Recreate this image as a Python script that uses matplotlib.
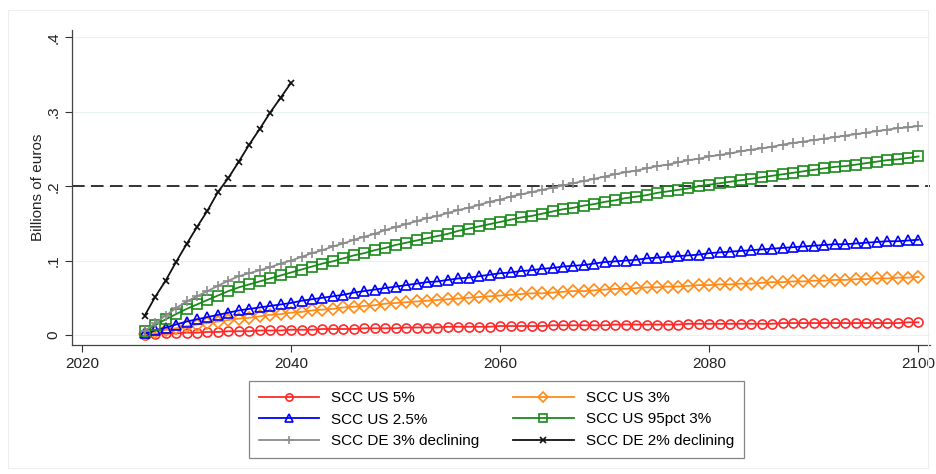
import matplotlib
matplotlib.use('Agg')
from matplotlib import pyplot as plt
from matplotlib.patches import Rectangle

plt.rcParams['font.family'] = ['Liberation Sans', 'DejaVu Sans']

years = list(range(2026, 2101))
years_de2 = list(range(2026, 2041))

scc_us_5 = [0.000, 0.001, 0.002, 0.002, 0.003, 0.003, 0.004, 0.004, 0.005, 0.005,
            0.005, 0.006, 0.006, 0.006, 0.007, 0.007, 0.007, 0.008, 0.008, 0.008,
            0.008, 0.009, 0.009, 0.009, 0.009, 0.010, 0.010, 0.010, 0.010, 0.011,
            0.011, 0.011, 0.011, 0.011, 0.012, 0.012, 0.012, 0.012, 0.012, 0.013,
            0.013, 0.013, 0.013, 0.013, 0.013, 0.014, 0.014, 0.014, 0.014, 0.014,
            0.014, 0.014, 0.015, 0.015, 0.015, 0.015, 0.015, 0.015, 0.015, 0.015,
            0.015, 0.016, 0.016, 0.016, 0.016, 0.016, 0.016, 0.016, 0.016, 0.016,
            0.016, 0.016, 0.016, 0.017, 0.017]

scc_us_3 = [0.001, 0.004, 0.007, 0.009, 0.012, 0.014, 0.016, 0.018, 0.020, 0.022,
            0.023, 0.025, 0.027, 0.028, 0.030, 0.031, 0.033, 0.034, 0.035, 0.037,
            0.038, 0.039, 0.040, 0.042, 0.043, 0.044, 0.045, 0.046, 0.047, 0.048,
            0.049, 0.050, 0.051, 0.052, 0.053, 0.054, 0.055, 0.056, 0.056, 0.057,
            0.058, 0.059, 0.059, 0.060, 0.061, 0.062, 0.062, 0.063, 0.064, 0.064,
            0.065, 0.065, 0.066, 0.067, 0.067, 0.068, 0.068, 0.069, 0.069, 0.070,
            0.071, 0.071, 0.072, 0.072, 0.073, 0.073, 0.074, 0.074, 0.075, 0.075,
            0.076, 0.076, 0.077, 0.077, 0.078]

scc_us_25 = [0.002, 0.006, 0.010, 0.014, 0.018, 0.021, 0.024, 0.027, 0.030, 0.033,
             0.035, 0.037, 0.039, 0.041, 0.043, 0.046, 0.048, 0.050, 0.052, 0.054,
             0.057, 0.059, 0.061, 0.063, 0.065, 0.067, 0.069, 0.071, 0.072, 0.074,
             0.076, 0.077, 0.079, 0.081, 0.083, 0.084, 0.086, 0.087, 0.089, 0.090,
             0.092, 0.093, 0.094, 0.096, 0.098, 0.099, 0.100, 0.101, 0.103, 0.104,
             0.105, 0.106, 0.107, 0.108, 0.110, 0.111, 0.112, 0.113, 0.114, 0.115,
             0.116, 0.117, 0.118, 0.119, 0.120, 0.121, 0.122, 0.122, 0.123, 0.124,
             0.125, 0.126, 0.126, 0.127, 0.128]

scc_us_95 = [0.005, 0.013, 0.021, 0.028, 0.035, 0.041, 0.047, 0.053, 0.059, 0.064,
             0.068, 0.072, 0.076, 0.080, 0.084, 0.088, 0.092, 0.096, 0.099, 0.103,
             0.107, 0.110, 0.114, 0.117, 0.121, 0.124, 0.127, 0.130, 0.133, 0.136,
             0.140, 0.143, 0.146, 0.149, 0.152, 0.155, 0.158, 0.160, 0.163, 0.166,
             0.169, 0.171, 0.174, 0.176, 0.179, 0.181, 0.184, 0.186, 0.188, 0.191,
             0.193, 0.195, 0.197, 0.200, 0.202, 0.204, 0.206, 0.208, 0.210, 0.212,
             0.214, 0.216, 0.218, 0.220, 0.222, 0.224, 0.226, 0.227, 0.229, 0.231,
             0.233, 0.235, 0.236, 0.238, 0.240]

scc_de_3 = [0.005, 0.016, 0.026, 0.036, 0.045, 0.052, 0.059, 0.066, 0.073, 0.079,
            0.083, 0.087, 0.091, 0.096, 0.100, 0.105, 0.110, 0.114, 0.119, 0.123,
            0.128, 0.132, 0.136, 0.141, 0.145, 0.149, 0.153, 0.157, 0.160, 0.164,
            0.168, 0.171, 0.175, 0.179, 0.182, 0.186, 0.189, 0.192, 0.195, 0.198,
            0.201, 0.204, 0.207, 0.210, 0.213, 0.216, 0.219, 0.221, 0.224, 0.227,
            0.229, 0.232, 0.235, 0.237, 0.240, 0.242, 0.244, 0.247, 0.249, 0.251,
            0.253, 0.256, 0.258, 0.260, 0.262, 0.264, 0.266, 0.268, 0.270, 0.272,
            0.274, 0.276, 0.278, 0.279, 0.281]

scc_de_2 = [0.026, 0.051, 0.073, 0.098, 0.122, 0.145, 0.167, 0.192, 0.211, 0.233,
            0.256, 0.277, 0.299, 0.319, 0.339]

threshold = 0.2
y_ticks = [0, 0.1, 0.2, 0.3, 0.4]
y_tick_labels = ['0', '.1', '.2', '.3', '.4']
x_ticks = [2020, 2040, 2060, 2080, 2100]

fig = plt.figure(figsize=(9.36, 4.74), dpi=100)
fig.patches.append(Rectangle((8 / 936, 6 / 474), 1 - 16 / 936, 1 - 16 / 474,
                             transform=fig.transFigure, fill=False,
                             edgecolor='#eeeeee', linewidth=0.8))
ax = fig.add_axes([72 / 936, 129 / 474, 858 / 936, 315 / 474])

for y in y_ticks:
    ax.axhline(y, color='#eaf1f2', linewidth=0.8, zorder=0)
ax.axhline(threshold, color='#222222', linewidth=1.3, linestyle=(0, (7, 3.5)), zorder=1)

series = [
    (years, scc_us_5, 'SCC US 5%', '#ff2a2a', 'o', 6.5),
    (years, scc_us_3, 'SCC US 3%', '#ff8c1a', 'D', 6.0),
    (years, scc_us_25, 'SCC US 2.5%', '#0000ff', '^', 6.5),
    (years, scc_us_95, 'SCC US 95pct 3%', '#1a8a1a', 's', 6.5),
    (years, scc_de_3, 'SCC DE 3% declining', '#8c8c8c', '+', 7.5),
    (years_de2, scc_de_2, 'SCC DE 2% declining', '#111111', 'x', 5.0),
]
for xs, ys, label, color, marker, ms in series:
    ax.plot(xs, ys, color=color, linewidth=1.3, marker=marker, markersize=ms,
            markerfacecolor='none', markeredgecolor=color, markeredgewidth=1.2,
            label=label, zorder=3)

ax.set_xlim(2019.05, 2101.1)
ax.set_ylim(-0.0135, 0.41)
ax.set_xticks(x_ticks)
ax.set_yticks(y_ticks)
ax.set_yticklabels(y_tick_labels, rotation=90, va='center')
ax.tick_params(axis='both', direction='out', length=5, width=0.8,
               colors='#333333', labelsize=11, labelcolor='#222222')
ax.set_ylabel('Billions of euros', fontsize=11, color='#222222', labelpad=1)
for side in ['top', 'right']:
    ax.spines[side].set_visible(False)
for side in ['left', 'bottom']:
    ax.spines[side].set_color('#444444')
    ax.spines[side].set_linewidth(0.9)

handles, labels = ax.get_legend_handles_labels()
order = [0, 2, 4, 1, 3, 5]
leg = fig.legend([handles[i] for i in order], [labels[i] for i in order],
                 loc='center', bbox_to_anchor=(496.5 / 936, 1 - 419.5 / 474),
                 ncol=2, fontsize=11, frameon=True, fancybox=False,
                 edgecolor='#666666', handlelength=3.95, columnspacing=2.2,
                 labelspacing=0.5, borderpad=0.65, handletextpad=0.8,
                 markerscale=0.8)
leg.get_frame().set_linewidth(0.9)

fig.savefig('out.png', dpi=100)
